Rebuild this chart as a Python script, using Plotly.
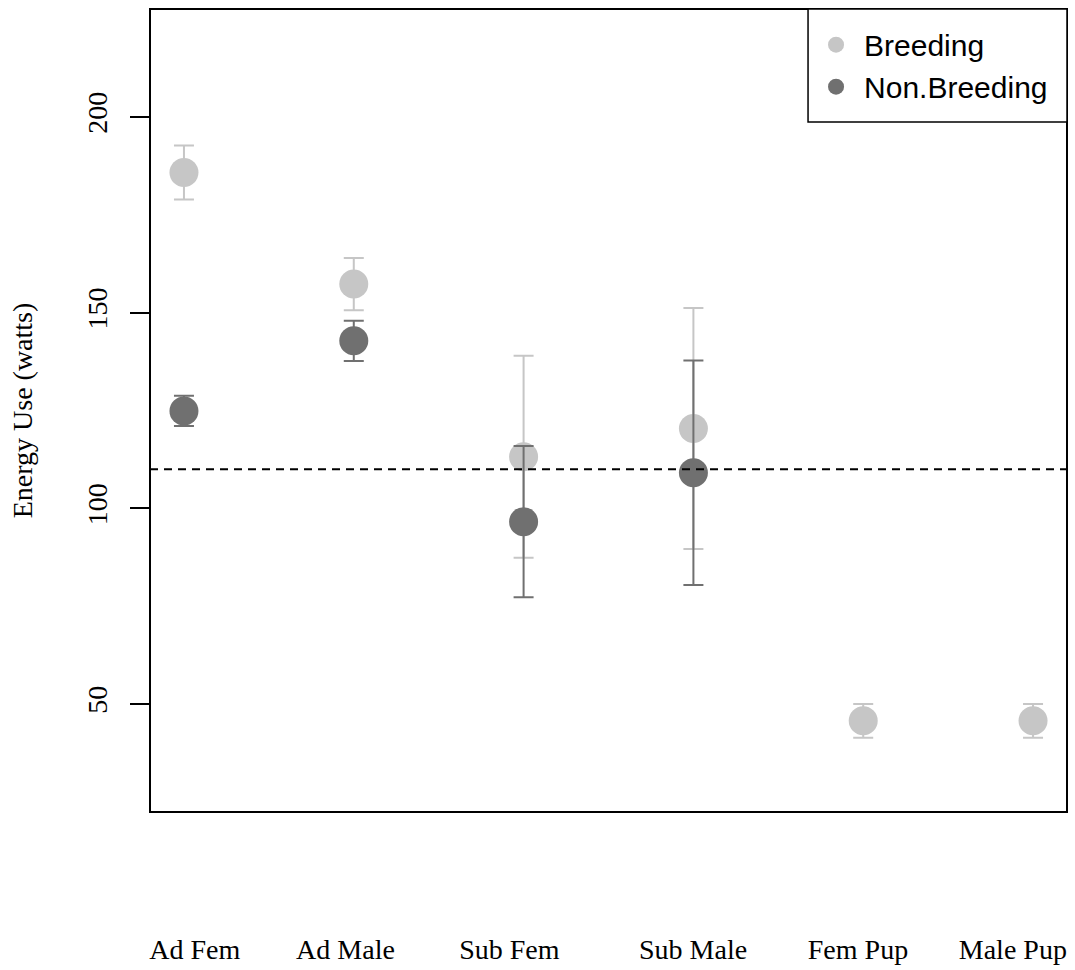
import plotly.graph_objects as go

categories = ["Ad Fem", "Ad Male", "Sub Fem", "Sub Male", "Fem Pup", "Male Pup"]
cat_pos = [1, 2, 3, 4, 5, 6]
label_pos = [1.063, 1.951, 2.916, 3.998, 4.969, 5.881]

breeding_mean = [185.8, 157.3, 113.2, 120.4, 45.7, 45.7]
breeding_err = [6.9, 6.7, 25.8, 30.8, 4.3, 4.3]
nonbreeding_mean = [124.9, 142.8, 96.6, 109.1]
nonbreeding_err = [3.85, 5.15, 19.3, 28.7]
ref_line = 110

y_ticks = [50, 100, 150, 200]

LIGHT = "#c6c6c6"
DARK = "#707070"
SERIF = "Liberation Serif, Times New Roman, serif"
SANS = "Liberation Sans, Arial, sans-serif"

fig = go.Figure()
fig.add_trace(go.Scatter(
    x=cat_pos, y=breeding_mean, mode="markers", name="Breeding",
    marker=dict(color=LIGHT, size=29, line=dict(width=0)),
    error_y=dict(type="data", array=breeding_err, color=LIGHT, thickness=2, width=10),
))
fig.add_trace(go.Scatter(
    x=cat_pos[:len(nonbreeding_mean)], y=nonbreeding_mean, mode="markers", name="Non.Breeding",
    marker=dict(color=DARK, size=29, line=dict(width=0)),
    error_y=dict(type="data", array=nonbreeding_err, color=DARK, thickness=2, width=10),
))

fig.add_shape(type="line", xref="paper", x0=0, x1=1, yref="y", y0=ref_line, y1=ref_line,
              line=dict(color="black", width=2, dash="8px,6px"), layer="above")
fig.add_shape(type="rect", xref="paper", yref="paper", x0=0, x1=1, y0=0, y1=1,
              line=dict(color="black", width=2), layer="above")
# legend frame
fig.add_shape(type="rect", xref="paper", yref="paper", x0=0.7176, x1=1, y0=0.8593, y1=1,
              line=dict(color="black", width=1.5), fillcolor="white", layer="above")

fig.update_layout(
    width=1075, height=970,
    margin=dict(l=150, r=8, t=9, b=158),
    paper_bgcolor="white", plot_bgcolor="white",
    showlegend=True,
    legend=dict(
        x=0.7176, xanchor="left", y=0.988, yanchor="top",
        bgcolor="rgba(0,0,0,0)", borderwidth=0,
        font=dict(family=SANS, size=30, color="black"),
        itemwidth=46, tracegroupgap=0,
    ),
    xaxis=dict(
        range=[0.8, 6.2], showgrid=False, zeroline=False, showline=False,
        tickmode="array", tickvals=label_pos, ticktext=categories,
        ticks="", tickfont=dict(family=SERIF, size=28, color="black"),
        ticklabelstandoff=118, automargin=False,
    ),
    yaxis=dict(
        range=[22.4, 227.6], showgrid=False, zeroline=False, showline=False,
        tickmode="array", tickvals=y_ticks, ticktext=[str(v) for v in y_ticks],
        ticks="outside", ticklen=19, tickwidth=1.5, tickcolor="black",
        tickangle=-90, tickfont=dict(family=SERIF, size=28, color="black"),
        ticklabelstandoff=12,
        title=dict(text="Energy Use (watts)", font=dict(family=SERIF, size=28, color="black"), standoff=40),
        automargin=False,
    ),
)

fig.write_html("out.html")
